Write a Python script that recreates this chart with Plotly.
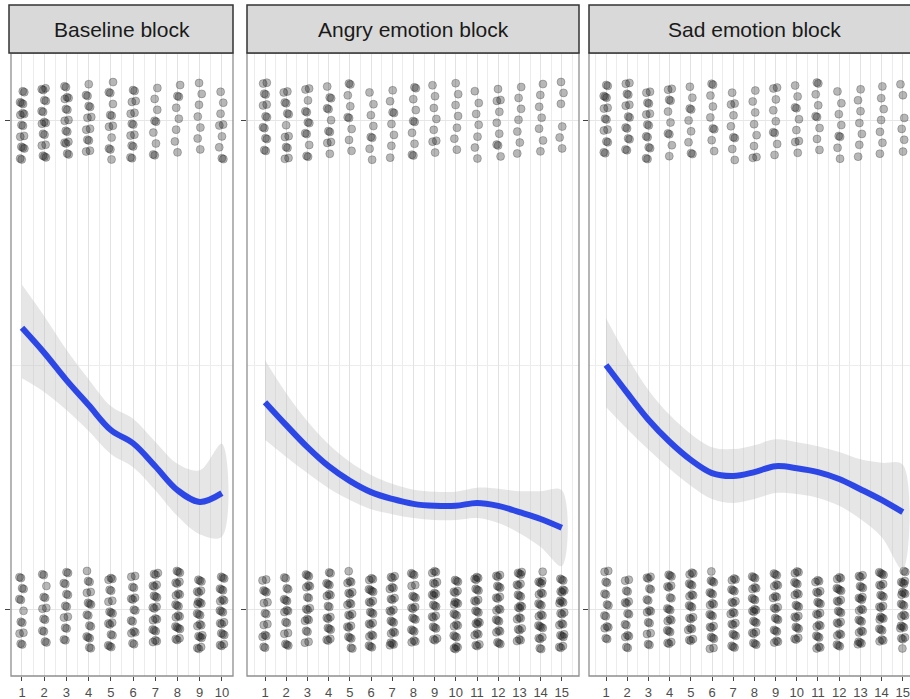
import plotly.graph_objects as go

# ---------------- data ----------------
blocks = ["Baseline block", "Angry emotion block", "Sad emotion block"]
trials_baseline = list(range(1, 11))
trials_angry = list(range(1, 16))
trials_sad = list(range(1, 16))

# number of participants responding 1 / 0 at each trial
ones_baseline = [17, 17, 16, 13, 12, 14, 9, 8, 7, 9]
zeros_baseline = [13, 13, 14, 17, 18, 16, 21, 22, 23, 21]
ones_angry = [14, 13, 12, 11, 9, 8, 8, 10, 8, 7, 7, 9, 7, 7, 6]
zeros_angry = [16, 17, 18, 19, 21, 22, 22, 20, 22, 23, 23, 21, 23, 23, 24]
ones_sad = [15, 14, 14, 10, 9, 9, 9, 8, 9, 9, 9, 8, 7, 7, 6]
zeros_sad = [15, 16, 16, 20, 21, 21, 21, 22, 21, 21, 21, 22, 23, 23, 24]

# smoothed fit and confidence band
fit_baseline = [0.577, 0.526, 0.470, 0.419, 0.368, 0.341, 0.294, 0.245, 0.221, 0.239]
upper_baseline = [0.665, 0.601, 0.532, 0.472, 0.417, 0.391, 0.344, 0.299, 0.286, 0.340]
lower_baseline = [0.474, 0.446, 0.409, 0.366, 0.319, 0.292, 0.245, 0.192, 0.155, 0.150]

fit_angry = [0.425, 0.378, 0.333, 0.294, 0.264, 0.241, 0.227, 0.217, 0.213, 0.213, 0.219, 0.213, 0.200, 0.186, 0.168]
upper_angry = [0.511, 0.443, 0.386, 0.339, 0.303, 0.276, 0.258, 0.246, 0.242, 0.242, 0.250, 0.248, 0.243, 0.243, 0.245]
lower_angry = [0.348, 0.313, 0.280, 0.249, 0.225, 0.206, 0.196, 0.188, 0.184, 0.184, 0.188, 0.178, 0.157, 0.129, 0.090]

fit_sad = [0.501, 0.444, 0.389, 0.344, 0.307, 0.280, 0.274, 0.282, 0.294, 0.290, 0.282, 0.268, 0.247, 0.225, 0.200]
upper_sad = [0.597, 0.518, 0.450, 0.399, 0.360, 0.333, 0.329, 0.337, 0.349, 0.343, 0.335, 0.323, 0.308, 0.301, 0.297]
lower_sad = [0.415, 0.370, 0.328, 0.289, 0.254, 0.227, 0.219, 0.227, 0.239, 0.237, 0.229, 0.213, 0.186, 0.149, 0.082]

panels = [
    (trials_baseline, ones_baseline, zeros_baseline, fit_baseline, upper_baseline, lower_baseline),
    (trials_angry, ones_angry, zeros_angry, fit_angry, upper_angry, lower_angry),
    (trials_sad, ones_sad, zeros_sad, fit_sad, upper_sad, lower_sad),
]

# ---------------- layout geometry (pixels) ----------------
W, H = 910, 699
px_left = [11, 247, 589]
px_right = [233, 579, 910]
x_ranges = [[0.505, 10.5], [0.151, 15.81], [0.198, 15.34]]
plot_top, plot_bottom = 53, 676
strip_top = 5
y_range = [-0.135, 1.139]

A1, A2 = 0.7548776662, 0.5698402910  # low-discrepancy jitter constants
JIT_X, JIT_Y = 0.12, 0.08

fig = go.Figure()

for i, (trials, ones, zeros, fit, up, lo) in enumerate(panels):
    xa = "x" if i == 0 else f"x{i+1}"
    ya = "y" if i == 0 else f"y{i+1}"
    xs, ys = [], []
    for j, t in enumerate(trials):
        for resp, n in ((1, ones[j]), (0, zeros[j])):
            for k in range(n):
                u = (0.5 + (k + 1) * A1 + j * 0.1234 + resp * 0.37 + i * 0.21) % 1.0
                v = (0.5 + (k + 1) * A2 + j * 0.3171 + resp * 0.53 + i * 0.11) % 1.0
                xs.append(t + (u - 0.5) * 2 * JIT_X)
                ys.append(resp + (v - 0.5) * 2 * JIT_Y)
    fig.add_trace(go.Scatter(
        x=xs, y=ys, mode="markers", xaxis=xa, yaxis=ya, showlegend=False,
        marker=dict(size=8, color="rgba(15,15,15,0.3)",
                    line=dict(width=0.8, color="rgba(15,15,15,0.3)")),
        hoverinfo="skip"))
    # band
    fig.add_trace(go.Scatter(
        x=trials + trials[::-1], y=up + lo[::-1], xaxis=xa, yaxis=ya,
        mode="lines", fill="toself", fillcolor="rgba(190,190,190,0.38)",
        line=dict(width=0, shape="spline", smoothing=1.0), showlegend=False, hoverinfo="skip"))
    # fit line
    fig.add_trace(go.Scatter(
        x=trials, y=fit, xaxis=xa, yaxis=ya, mode="lines",
        line=dict(color="#2D47E6", width=6, shape="spline", smoothing=1.0),
        showlegend=False, hoverinfo="skip"))

layout = dict(
    width=W, height=H, margin=dict(l=0, r=0, t=0, b=0),
    paper_bgcolor="white", plot_bgcolor="white",
    font=dict(family="Liberation Sans, Arial, sans-serif", color="#222"),
    shapes=[], annotations=[],
)

yd = [(H - plot_bottom) / H, (H - plot_top) / H]
for i in range(3):
    sfx = "" if i == 0 else str(i + 1)
    dom = [px_left[i] / W, min(px_right[i] / W, 1.0)]
    trials = panels[i][0]
    layout["xaxis" + sfx] = dict(
        domain=dom, range=x_ranges[i], anchor="y" + sfx,
        tickmode="array", tickvals=trials, ticktext=[str(t) for t in trials],
        ticks="outside", ticklen=4, tickwidth=1, tickcolor="#444",
        tickfont=dict(size=13, color="#4d4d4d"), ticklabeloverflow="allow",
        showgrid=True, gridcolor="#e2e2e2", gridwidth=1,
        minor=dict(dtick=0.5, tick0=0.5, showgrid=True, gridcolor="#ececec", gridwidth=1, ticks=""),
        zeroline=False, showline=False, fixedrange=True,
    )
    layout["yaxis" + sfx] = dict(
        domain=yd, range=y_range, anchor="x" + sfx,
        tickmode="array", tickvals=[0, 1], showticklabels=False,
        ticks="outside", ticklen=5, tickwidth=1, tickcolor="#444",
        showgrid=True, gridcolor="#e6e6e6", gridwidth=1,
        minor=dict(dtick=0.5, tick0=0, showgrid=True, gridcolor="#ededed", gridwidth=1, ticks=""),
        zeroline=False, showline=False, fixedrange=True,
    )
    x0 = px_left[i] / W
    x1 = px_right[i] / W if i < 2 else 1.02
    # panel border
    layout["shapes"].append(dict(
        type="rect", xref="paper", yref="paper", x0=x0, x1=x1, y0=yd[0], y1=yd[1],
        line=dict(color="#8f8f8f", width=1.3), fillcolor="rgba(0,0,0,0)", layer="above"))
    # strip
    sx0 = (px_left[i] - (2 if i == 0 else 0)) / W
    layout["shapes"].append(dict(
        type="rect", xref="paper", yref="paper", x0=sx0, x1=x1,
        y0=(H - plot_top) / H, y1=(H - strip_top) / H,
        line=dict(color="#333333", width=1.5), fillcolor="#d9d9d9", layer="above"))
    cx = (px_left[i] + px_right[i]) / 2 / W if i < 2 else (px_left[i] + 920) / 2 / W
    layout["annotations"].append(dict(
        text=blocks[i], xref="paper", yref="paper", x=cx,
        y=(H - (plot_top + strip_top) / 2) / H, showarrow=False,
        xanchor="center", yanchor="middle", font=dict(size=21, color="#1a1a1a")))

fig.update_layout(**layout)
fig.write_html("out.html", config={"displayModeBar": False},
               post_script="document.body.style.margin='0';document.body.style.overflow='hidden';")
